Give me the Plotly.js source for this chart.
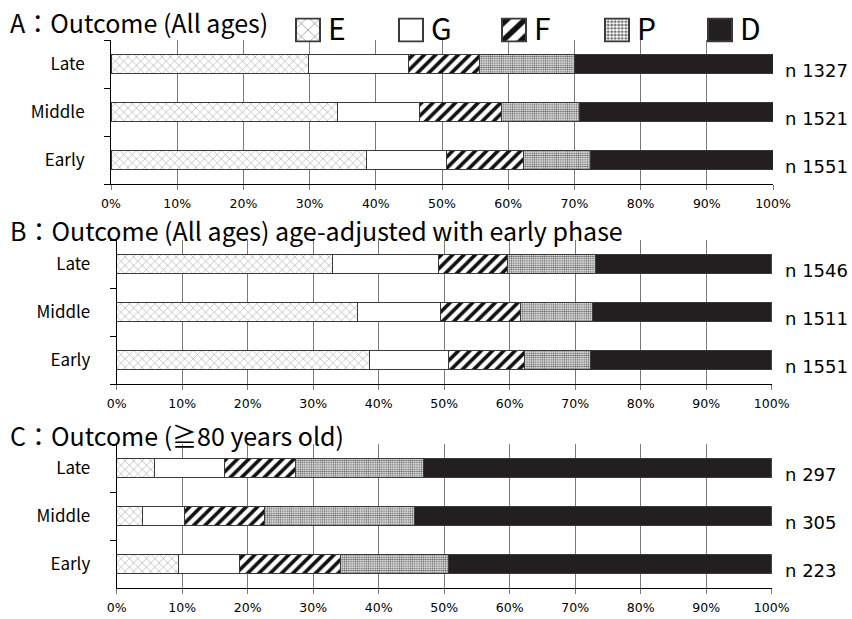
<!DOCTYPE html>
<html><head><meta charset="utf-8">
<script src="https://cdn.plot.ly/plotly-3.0.1.min.js"></script>
<style>html,body{margin:0;padding:0;background:#fff}#chart{width:852px;height:619px}</style>
</head><body><div id="chart"></div>
<script>
// categories (bottom to top)
const phases = ['Early', 'Middle', 'Late'];
const outcomes = ['E', 'G', 'F', 'P', 'D'];

// Panel A: Outcome (All ages), percent per phase [Early, Middle, Late]
const aE = [38.6, 34.2, 29.8];
const aG = [12.1, 12.4, 15.1];
const aF = [11.6, 12.4, 10.8];
const aP = [10.1, 11.7, 14.3];
const aD = [27.6, 29.3, 30.0];
const aN = [1551, 1521, 1327];

// Panel B: age-adjusted with early phase
const bE = [38.6, 36.7, 32.9];
const bG = [12.1, 12.7, 16.2];
const bF = [11.6, 12.3, 10.6];
const bP = [10.1, 11.0, 13.4];
const bD = [27.6, 27.3, 26.9];
const bN = [1551, 1511, 1546];

// Panel C: >= 80 years old
const cE = [9.4, 3.9, 5.7];
const cG = [9.3, 6.5, 10.7];
const cF = [15.4, 12.2, 10.9];
const cP = [16.5, 22.9, 19.5];
const cD = [49.4, 54.5, 53.2];
const cN = [223, 305, 297];

const titles = ['A：Outcome (All ages)', 'B：Outcome (All ages) age-adjusted with early phase', 'C：Outcome (≧80 years old)'];
const xTicks = [0,10,20,30,40,50,60,70,80,90,100];

const styles = {
  E: {color: '#ffffff', pattern: {shape: 'x', fgcolor: '#8a8a8a', bgcolor: '#ffffff', size: 6, solidity: 0.15}},
  G: {color: '#ffffff'},
  F: {color: '#ffffff', pattern: {shape: '/', fgcolor: '#111111', bgcolor: '#ffffff', size: 8, solidity: 0.45}},
  P: {color: '#ffffff', pattern: {shape: '.', fgcolor: '#6a6a6a', bgcolor: '#ffffff', size: 2.2, solidity: 0.5}},
  D: {color: '#231f20'}
};

const panels = [
  {vals: [aE, aG, aF, aP, aD], n: aN, ax: ''},
  {vals: [bE, bG, bF, bP, bD], n: bN, ax: '2'},
  {vals: [cE, cG, cF, cP, cD], n: cN, ax: '3'}
];

const traces = [];
panels.forEach((p, pi) => {
  outcomes.forEach((o, oi) => {
    const st = styles[o];
    const marker = {color: st.color, line: {color: '#3a3a3a', width: 1}};
    if (st.pattern) marker.pattern = st.pattern;
    traces.push({
      type: 'bar', orientation: 'h', name: o,
      x: p.vals[oi], y: phases,
      xaxis: 'x' + p.ax, yaxis: 'y' + p.ax,
      marker: marker, showlegend: pi === 0, legendgroup: o,
      hoverinfo: 'x+name'
    });
  });
});

const H = 619, W = 852;
function py(px) { return 1 - px / H; }
function pxX(px) { return px / W; }

const doms = [
  {x: [pxX(111), pxX(773)], y: [py(184), py(40)]},
  {x: [pxX(116.7), pxX(771.7)], y: [py(384), py(240)]},
  {x: [pxX(116.7), pxX(771.7)], y: [py(588.3), py(444)]}
];
const titleY = [22, 230, 435];

const layout = {
  width: W, height: H,
  margin: {l: 0, r: 0, t: 0, b: 0},
  paper_bgcolor: '#ffffff', plot_bgcolor: '#ffffff',
  barmode: 'stack', bargap: 0.6,
  showlegend: true,
  legend: {orientation: 'h', x: pxX(288), xanchor: 'left', y: py(2), yanchor: 'top',
           font: {family: 'Noto Sans CJK JP', size: 30, color: '#000'},
           entrywidth: 58, entrywidthmode: 'pixels', traceorder: 'normal',
           bgcolor: 'rgba(0,0,0,0)'},
  annotations: [],
  font: {family: 'DejaVu Sans', color: '#000'}
};

panels.forEach((p, pi) => {
  const d = doms[pi];
  layout['xaxis' + p.ax] = {
    domain: d.x, anchor: 'y' + p.ax, range: [0, 100], fixedrange: true,
    tickvals: xTicks, ticktext: xTicks.map(v => v + '%'),
    showgrid: true, gridcolor: '#7a7a7a', gridwidth: 1,
    showline: true, linecolor: '#000', linewidth: 1,
    ticks: 'outside', ticklen: 5, tickcolor: '#7a7a7a',
    tickfont: {family: 'DejaVu Sans', size: 12.5, color: '#000'},
    ticklabelstandoff: 3,
    zeroline: false
  };
  layout['yaxis' + p.ax] = {
    domain: d.y, anchor: 'x' + p.ax, type: 'category',
    categoryorder: 'array', categoryarray: phases,
    tickson: 'boundaries', ticks: 'outside', ticklen: 6, tickcolor: '#000',
    showline: true, linecolor: '#000', linewidth: 1, showgrid: false,
    tickfont: {family: 'Noto Sans CJK JP', size: 17, color: '#000'},
    ticklabelstandoff: 22, fixedrange: true
  };
  layout.annotations.push({
    text: titles[pi], xref: 'paper', yref: 'paper', x: pxX(8), y: py(titleY[pi]),
    xanchor: 'left', yanchor: 'middle', showarrow: false,
    font: {family: 'Noto Sans CJK JP', size: 25, color: '#000'}
  });
  phases.forEach((ph, i) => {
    layout.annotations.push({
      text: 'n ' + p.n[i], xref: 'paper', yref: 'y' + p.ax, x: pxX(783), y: ph,
      xanchor: 'left', yanchor: 'middle', yshift: -6, showarrow: false,
      font: {family: 'DejaVu Sans', size: 18, color: '#000'}
    });
  });
});

Plotly.newPlot('chart', traces, layout, {displayModeBar: false, staticPlot: true}).then(gd => {
  gd.querySelectorAll('.legend .legendpoints path').forEach(pth => {
    pth.setAttribute('transform', 'translate(20,2) scale(2,1.9)');
  });
});
</script>
</body></html>
